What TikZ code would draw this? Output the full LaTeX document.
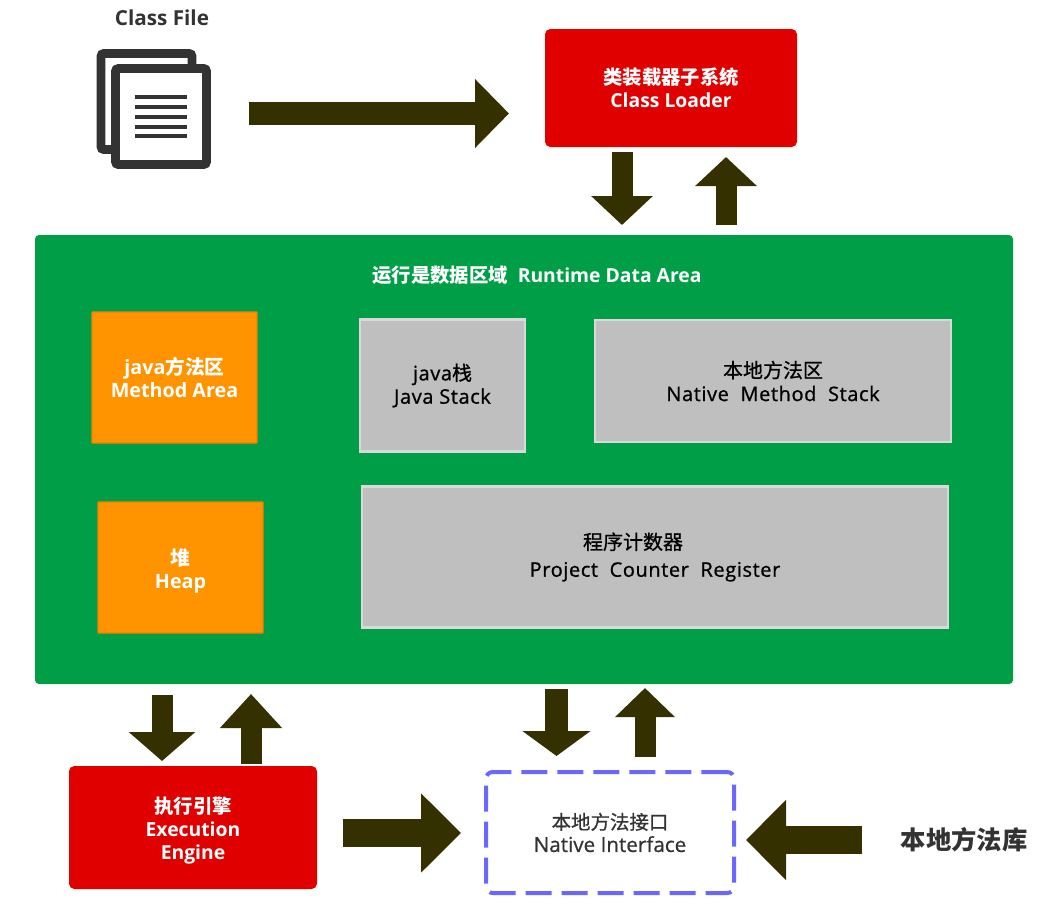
\documentclass[tikz,border=0pt]{standalone}
\usepackage{fontspec}
\setmainfont{Open Sans}
\newfontfamily\cjk{Noto Sans CJK SC}
\newfontfamily\cjkm[FakeBold=0.7]{Noto Sans CJK SC}
\newfontfamily\latm[FakeBold=0.9,LetterSpace=3]{Open Sans}
\newfontfamily\latn[FakeBold=0.7]{Open Sans}
\usetikzlibrary{arrows.meta,calc}
\definecolor{cred}{HTML}{E00000}
\definecolor{cgreen}{HTML}{009F47}
\definecolor{corange}{HTML}{FF9400}
\definecolor{cedge}{HTML}{F57F00}
\definecolor{cgray}{HTML}{BFBFBF}
\definecolor{cgrayedge}{HTML}{D9D9D9}
\definecolor{colive}{HTML}{353000}
\definecolor{cdash}{HTML}{6B66FF}
\definecolor{cicon}{HTML}{333333}
\definecolor{ctext}{HTML}{333333}
\tikzset{
  sz/.style 2 args={minimum width=#1*0.75pt,minimum height=#2*0.75pt,inner sep=0pt,outer sep=0pt,align=center},
  redbox/.style={fill=cred,rounded corners=4pt,text=white,font=\fontsize{14.5}{17.5}\selectfont\bfseries},
  greenbox/.style={fill=cgreen,rounded corners=3pt},
  orangebox/.style={fill=corange,draw=cedge,line width=1pt,rounded corners=0.5pt,text=white,font=\fontsize{14.8}{17}\selectfont\bfseries},
  graybox/.style={fill=cgray,draw=cgrayedge,line width=1.6pt,text=black,font=\fontsize{15}{17.5}\selectfont\latm},
  dashbox/.style={draw=cdash,line width=3pt,rounded corners=5pt,dash pattern=on 19.5pt off 7.5pt,text=ctext,font=\fontsize{15.5}{17}\selectfont\latn},
  plainlabel/.style={text=ctext,inner sep=0pt,font=\bfseries},
  iconback/.style={draw=cicon,line width=6.5pt,rounded corners=2pt,fill=white},
  blockarrow/.style n args={3}{draw=colive,line width=#1*0.75pt,-{Triangle[length=#2*0.75pt,width=#3*0.75pt]}},
  textline/.style={draw=cicon,line width=3.2pt},
}
\begin{document}
\begin{tikzpicture}[x=0.75pt,y=-0.75pt]
\useasboundingbox (0,0) rectangle (1058,910);
% Class file icon
\node[plainlabel,font=\fontsize{15.5}{17}\selectfont\bfseries] (classfile) at (162,18) {Class File};
\node[iconback,sz={91}{96}] (iconrear) at (146.5,101.5) {};
\node[iconback,sz={91}{96}] (iconfront) at (161,116.5) {};
\foreach \yy in {-19.5,-9.5,0.5,10.5,19.5}
  \draw[textline] ($(iconfront.center)+(-26,\yy)$) -- ($(iconfront.center)+(26,\yy)$);
% Boxes
\node[redbox,sz={252}{118}] (loader) at (671,88) {{\cjk\bfseries 类装载器子系统}\\Class Loader};
\node[greenbox,sz={978}{449}] (runtime) at (524,459.5) {};
\node[text=white,inner sep=0pt,font=\fontsize{14.5}{17}\selectfont\bfseries] (runtimetitle) at (537,275) {{\cjk\bfseries 运行是数据区域}\ \ Runtime Data Area};
\node[orangebox,sz={165}{131}] (method) at (174.5,377.5) {java{\cjk\bfseries 方法区}\\Method Area};
\node[orangebox,sz={165}{131}] (heap) at (180.5,567.5) {\rule{0pt}{18pt}{\cjk\bfseries 堆}\\Heap};
\node[graybox,sz={165}{132}] (javastack) at (442.5,385.5) {java{\cjkm 栈}\\Java Stack};
\node[graybox,sz={356}{122}] (nativestack) at (773,381) {{\cjkm 本地方法区}\\Native\ \ Method\ \ Stack};
\node[graybox,sz={586}{141}] (counter) at (655,557) {{\cjkm 程序计数器}\hspace*{33pt}\\[3pt]Project\ \ Counter\ \ Register};
\node[redbox,sz={248}{123}] (engine) at (193,827.5) {\rule{0pt}{17pt}{\cjk\bfseries 执行引擎}\\Execution\\Engine};
\node[dashbox,sz={248}{121}] (nativeif) at (610,832.5) {{\cjkm\fontsize{14.6}{17}\selectfont 本地方法接口}\\Native Interface};
\node[plainlabel,font=\fontsize{19}{22}\selectfont\cjk\bfseries] (nativelib) at (964,840) {本地方法库};
% Arrows
\draw[blockarrow={23}{34}{67}] ($(iconfront.east)+(42,-3)$) -- ($(loader.west)+(-36,25.5)$);
\draw[blockarrow={21}{29}{60}] ($(loader.south)+(-49,5)$) -- ($(runtime.north)+(98,-10)$);
\draw[blockarrow={21}{29}{60}] ($(runtime.north)+(202,-10)$) -- ($(loader.south)+(55,10)$);
\draw[blockarrow={21}{29}{65}] ($(runtime.south)+(-362,11)$) -- ($(engine.north)+(-31,-5)$);
\draw[blockarrow={21}{34}{60}] ($(engine.north)+(58,-2)$) -- ($(runtime.south)+(-273,10)$);
\draw[blockarrow={23}{25}{67}] ($(runtime.south)+(32.5,5)$) -- ($(nativeif.north)+(-53.5,-16)$);
\draw[blockarrow={21}{29}{58}] ($(nativeif.north)+(35,-15)$) -- ($(runtime.south)+(121,4)$);
\draw[blockarrow={28}{40}{77}] ($(engine.east)+(26,5.5)$) -- ($(nativeif.west)+(-25,0.5)$);
\draw[blockarrow={28}{40}{78}] ($(nativelib.west)+(-38,0)$) -- ($(nativeif.east)+(12,7.5)$);
\end{tikzpicture}
\end{document}
